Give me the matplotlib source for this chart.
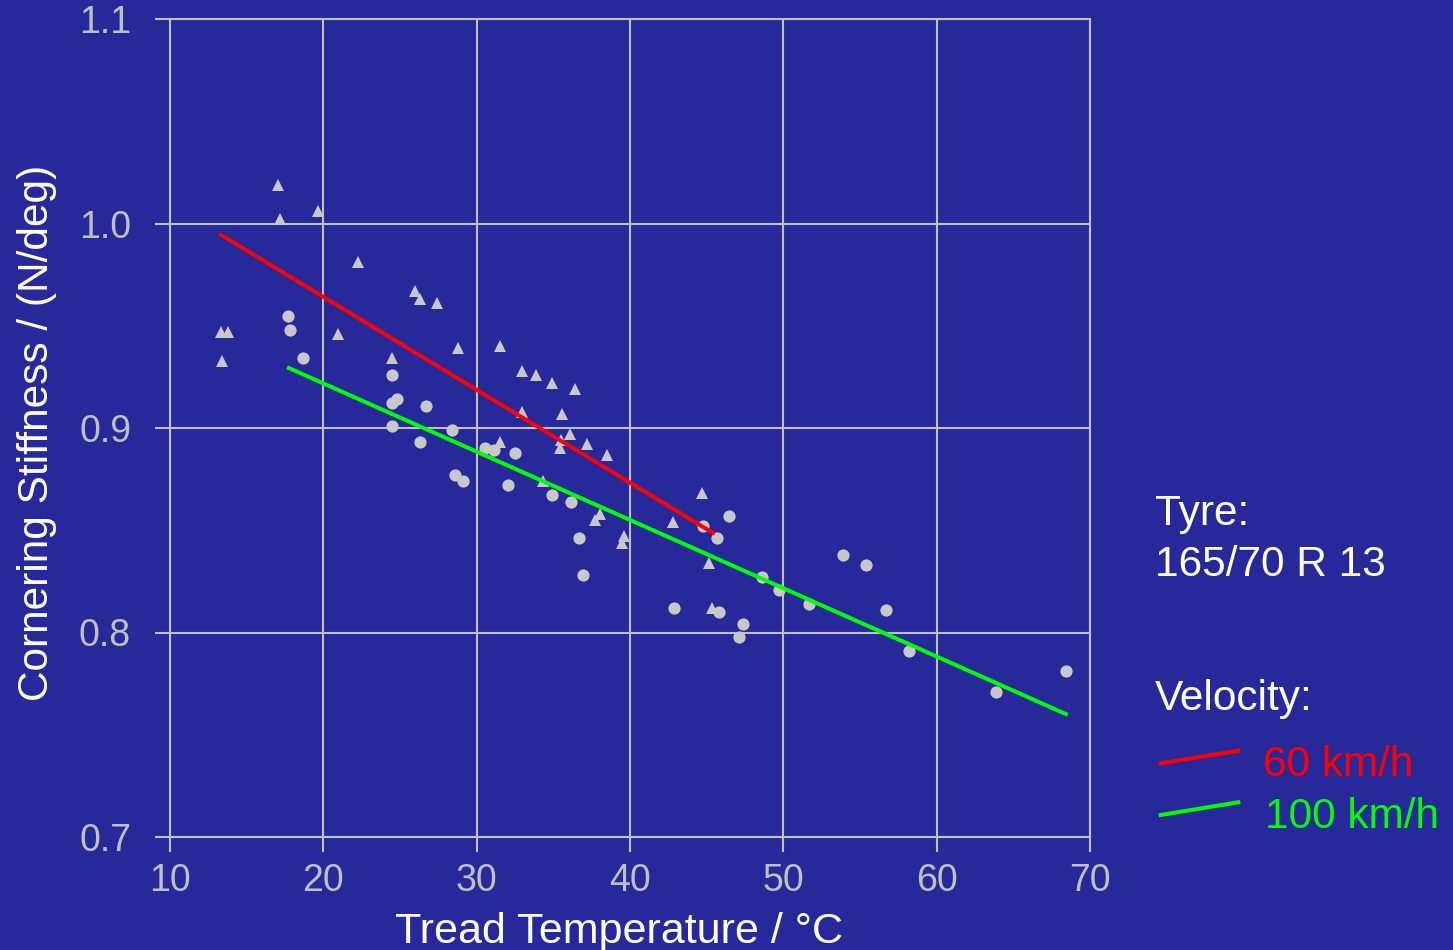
import matplotlib
matplotlib.use("Agg")
import matplotlib.pyplot as plt
import numpy as np

plt.rcParams['font.family'] = ['Liberation Sans', 'DejaVu Sans']

# Measured points: triangles (60 km/h) and circles (100 km/h)
tri_x = [17.04, 17.17, 19.65, 22.26, 13.33, 13.78, 13.39, 20.96, 25.98, 26.30,
         27.41, 24.48, 28.78, 31.55, 32.98, 33.87, 34.91, 36.41, 32.98, 35.57,
         36.09, 35.44, 35.50, 31.52, 37.20, 38.48, 34.30, 38.04, 37.70, 39.60,
         39.45, 44.67, 42.83, 45.17, 45.32]
tri_y = [1.019, 1.002, 1.006, 0.981, 0.947, 0.947, 0.933, 0.946, 0.967, 0.963,
         0.961, 0.934, 0.939, 0.940, 0.928, 0.926, 0.922, 0.919, 0.908, 0.907,
         0.897, 0.890, 0.894, 0.893, 0.892, 0.887, 0.874, 0.858, 0.855, 0.847,
         0.844, 0.868, 0.854, 0.834, 0.812]

circ_x = [17.72, 17.83, 18.65, 24.46, 24.46, 24.78, 26.72, 24.46, 28.37, 26.30,
          28.59, 29.13, 30.54, 31.16, 32.50, 32.06, 34.93, 36.12, 36.69, 36.95,
          44.78, 45.65, 46.46, 42.89, 45.82, 47.34, 47.11, 48.58, 49.73, 51.69,
          53.91, 55.39, 56.70, 58.18, 63.87, 68.43]
circ_y = [0.955, 0.948, 0.934, 0.926, 0.912, 0.914, 0.911, 0.901, 0.899, 0.893,
          0.877, 0.874, 0.890, 0.889, 0.888, 0.872, 0.867, 0.864, 0.846, 0.828,
          0.852, 0.846, 0.857, 0.812, 0.810, 0.804, 0.798, 0.827, 0.821, 0.814,
          0.838, 0.833, 0.811, 0.791, 0.771, 0.781]

# Regression lines (end points)
red_x = [13.33, 45.41]
red_y = [0.9944, 0.8487]
green_x = [17.76, 68.43]
green_y = [0.9293, 0.7601]

x_ticks = [10, 20, 30, 40, 50, 60, 70]
y_ticks = [0.7, 0.8, 0.9, 1.0, 1.1]

bg = '#27299b'
grid_c = '#c0c0c0'
pt_c = '#c8c8c8'

fig = plt.figure(figsize=(14.53, 9.5), dpi=100, facecolor=bg)
ax = fig.add_axes([170/1453, 1-837/950, (1090-170)/1453, (837-19)/950])
ax.set_facecolor(bg)

ax.set_xlim(10, 70)
ax.set_ylim(0.7, 1.1)
ax.set_xticks(x_ticks)
ax.set_yticks(y_ticks)
ax.set_xticklabels([str(v) for v in x_ticks])
ax.set_yticklabels([f"{v:.1f}" for v in y_ticks])
ax.grid(True, color=grid_c, linewidth=1.5)
ax.set_axisbelow(True)
for s in ax.spines.values():
    s.set_color(grid_c)
    s.set_linewidth(1.5)
ax.tick_params(axis='both', colors=grid_c, labelcolor=grid_c, length=11,
               width=1.5, labelsize=27)
ax.tick_params(axis='y', pad=17)
ax.tick_params(axis='x', pad=8)

ax.plot(tri_x, tri_y, linestyle='none', marker='^', markersize=9,
        color=pt_c, markeredgewidth=0, zorder=3)
ax.plot(circ_x, circ_y, linestyle='none', marker='o', markersize=8.8,
        color=pt_c, markeredgewidth=0, zorder=3)
ax.plot(red_x, red_y, color='#ff0000', linewidth=2.9, zorder=4)
ax.plot(green_x, green_y, color='#00ff00', linewidth=2.9, zorder=4)

ax.set_xlabel('Tread Temperature / °C', color='white', fontsize=31, labelpad=9)
ax.set_ylabel('Cornering Stiffness / (N/deg)', color='white', fontsize=30.5,
              labelpad=16)
ax.xaxis.label.set_x(0.488)
ax.yaxis.label.set_y(0.4945)

# Side legend
def px(x, y):
    return x/1453, 1-y/950

fs = 30.5
fig.text(*px(1155, 514), 'Tyre:', color='white', fontsize=fs, va='center')
fig.text(*px(1155, 565), '165/70 R 13', color='white', fontsize=fs, va='center')
fig.text(*px(1155, 699), 'Velocity:', color='white', fontsize=fs, va='center')
fig.text(*px(1263, 765), '60 km/h', color='#ff0000', fontsize=fs, va='center')
fig.text(*px(1265, 817), '100 km/h', color='#00ff00', fontsize=fs, va='center')
fig.add_artist(plt.Line2D([1160.7/1453, 1238.3/1453],
                          [1-763.3/950, 1-750.7/950], color='#ff0000',
                          linewidth=2.9, transform=fig.transFigure))
fig.add_artist(plt.Line2D([1160.7/1453, 1238.3/1453],
                          [1-815/950, 1-802.3/950], color='#00ff00',
                          linewidth=2.9, transform=fig.transFigure))

fig.savefig('out.png', dpi=100, facecolor=bg)
